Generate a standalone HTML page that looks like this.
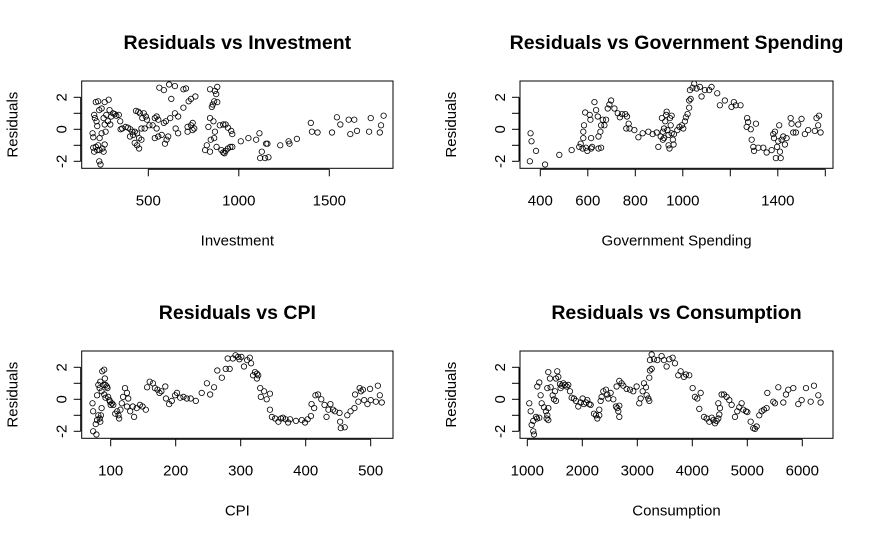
<!DOCTYPE html>
<html><head><meta charset="utf-8"><style>
body{margin:0;background:#fff;}
svg{display:block;font-family:"Liberation Sans",Arial,sans-serif;}
</style></head><body>
<svg id="chart" width="875" height="540" viewBox="0 0 875 540" xmlns="http://www.w3.org/2000/svg"></svg>
<script>
const investmentPoints=[[192,-0.25],[196,-0.5],[196,-1.15],[201,-1.4],[210,1.7],[223,1.75],[201,0.9],[205,0.7],[214,0.5],[218,0.2],[229,1.2],[242,1.3],[231,-0.55],[223,-1],[210,-1.1],[218,-1.3],[231,-1.3],[246,-1.2],[253,-1.4],[259,-0.95],[229,-2],[236,-2.2],[242,-0.25],[253,0.7],[259,0.3],[264,-0.15],[259,1.7],[281,1.85],[286,1.2],[268,0.9],[277,0.5],[290,0.3],[295,0.8],[305,1],[314,0.95],[323,0.85],[337,0.9],[345,0.5],[347,0],[356,0.05],[375,0.15],[388,0.1],[401,0],[412,-0.15],[399,-0.45],[416,-0.35],[425,-0.15],[432,1.15],[445,1.1],[454,1],[438,-0.25],[449,-0.55],[425,-0.85],[438,-1],[449,-1.2],[462,-0.65],[467,0.7],[475,1],[486,0.8],[493,0.6],[480,0.05],[462,0.05],[506,0.25],[524,0.25],[536,0.7],[546,0.8],[555,0.6],[546,0.05],[536,-0.55],[555,-0.45],[574,-0.35],[586,0.4],[592,-0.9],[601,-0.65],[610,-0.45],[597,0.5],[561,2.6],[586,2.45],[615,2.8],[647,2.7],[627,1.9],[647,1],[665,0.8],[621,0.7],[651,0.05],[665,-0.25],[694,2.5],[708,2.55],[694,1.35],[723,1.75],[736,1.9],[760,2.05],[717,0.15],[736,0.25],[745,0.4],[754,0.05],[717,-0.15],[745,-0.05],[841,2.5],[868,2.4],[881,2.65],[875,2.2],[856,1.55],[864,1.75],[881,1.7],[851,1.4],[841,0.7],[832,0.15],[860,0.5],[868,-0.15],[864,-0.55],[845,-0.65],[823,-1],[814,-1.3],[841,-1.4],[877,-1.1],[895,0.25],[914,0.3],[927,0.3],[940,0.1],[958,-0.1],[964,-0.3],[904,-1.3],[914,-1.45],[927,-1.35],[940,-1.2],[953,-1.1],[964,-1.1],[921,-1.5],[1011,-0.75],[1053,-0.55],[1096,-0.65],[1114,-0.25],[1127,-1.4],[1118,-1.8],[1151,-0.9],[1158,-0.9],[1164,-1.75],[1145,-1.8],[1229,-1],[1275,-0.75],[1280,-0.9],[1321,-0.6],[1398,0.4],[1404,-0.15],[1435,-0.2],[1515,-0.2],[1542,0.75],[1561,0.3],[1607,0.6],[1638,0.6],[1616,-0.3],[1653,-0.1],[1729,0.7],[1720,-0.15],[1779,-0.2],[1786,0.25],[1800,0.85]];
const governmentPoints=[[356,-2],[359,-0.25],[363,-0.75],[382,-1.35],[420,-2.2],[480,-1.6],[532,-1.3],[564,-1.1],[570,-0.9],[581,-0.55],[581,-0.15],[584,0.25],[589,1.05],[578,-1.2],[592,-1.15],[598,-1.35],[608,0.9],[611,0.6],[614,-0.55],[618,-1.1],[614,-1.2],[628,1.7],[635,1.2],[642,0.8],[645,-0.45],[645,-1.2],[656,-1.15],[653,-0.15],[656,0.25],[663,0.6],[670,0.25],[677,0.6],[684,1.3],[691,1.55],[698,1.8],[712,1.3],[726,1],[735,0.75],[744,0.95],[758,0.95],[765,0.8],[762,0.05],[776,0.05],[772,0.35],[796,-0.05],[813,-0.5],[831,-0.25],[855,-0.15],[873,-0.3],[890,-0.2],[897,-1.1],[907,-0.45],[912,0.7],[916,-0.65],[921,0.05],[926,0.5],[930,0.9],[932,1.1],[935,-0.05],[940,-0.35],[940,-1],[944,-1.2],[946,0.7],[949,0.25],[953,0.85],[953,-0.25],[958,-0.65],[961,-0.95],[963,-0.3],[921,-0.55],[916,-0.15],[977,-0.05],[986,0.15],[996,0.25],[1002,0.05],[1009,0.5],[1013,0.75],[1020,0.95],[1027,1.35],[1027,1.8],[1033,1.9],[1030,2.45],[1041,2.6],[1048,2.85],[1058,2.55],[1072,2.65],[1079,2.05],[1093,2.45],[1111,2.45],[1121,2.65],[1145,2.25],[1156,1.5],[1177,1.8],[1205,1.4],[1215,1.7],[1223,1.5],[1243,1.5],[1271,0.7],[1275,0.45],[1269,0.15],[1286,0],[1308,0.35],[1290,-0.65],[1297,-1.1],[1300,-1.35],[1318,-1.15],[1339,-1.15],[1353,-1.45],[1374,-1.3],[1381,-0.3],[1384,-0.55],[1388,-0.15],[1392,-1.8],[1397,-1.1],[1402,-0.75],[1406,0.25],[1409,-1.4],[1412,-1.8],[1416,-0.65],[1423,-0.45],[1430,-0.95],[1437,-0.55],[1454,0.7],[1458,0.35],[1465,-0.2],[1476,-0.2],[1486,0.3],[1500,0.65],[1514,-0.3],[1528,-0.05],[1556,-0.1],[1563,0.7],[1570,0.25],[1574,0.85],[1580,-0.2]];
const cpiPoints=[[72,-0.25],[73,-0.75],[73,-2],[78,-2.2],[77,-1.55],[79,-1.3],[81,-1],[83,-1.2],[84,-1.4],[85,-1],[86,-0.55],[79,0.25],[81,0.9],[83,0.7],[84,1.1],[86,0.5],[87,1.75],[90,1.85],[91,1.3],[89,0.9],[90,0.3],[92,0.9],[94,0.8],[95,0.7],[92,0.1],[96,0.15],[98,-0.05],[99,-0.15],[100,-0.35],[102,-0.25],[104,-0.35],[107,-0.9],[110,-0.75],[112,-1],[113,-1.2],[115,-0.65],[117,-0.25],[119,0.15],[122,0.7],[125,0.4],[127,0.05],[125,-0.45],[130,-0.75],[134,-0.45],[136,-1.1],[140,-0.55],[145,-0.35],[149,-0.45],[154,-0.65],[156,0.75],[160,1.1],[165,1],[168,0.7],[172,0.6],[175,0.4],[178,0.5],[184,0.8],[185,0.05],[190,-0.3],[194,-0.1],[199,0.25],[202,0.4],[207,0.1],[212,0.15],[217,0.05],[223,0.05],[231,-0.1],[240,0.4],[248,1],[253,0.3],[259,0.75],[264,1.8],[271,1.35],[277,1.9],[283,1.9],[280,2.55],[288,2.55],[292,2.75],[296,2.65],[298,2.5],[301,2.65],[305,2.05],[310,2.45],[314,2.6],[316,2.25],[319,1.5],[322,1.7],[325,1.6],[327,1.5],[325,1.3],[330,0.7],[331,0.15],[336,0.5],[340,0],[345,0.35],[345,-0.65],[348,-1.1],[353,-1.2],[358,-1.4],[362,-1.2],[365,-1.15],[369,-1.25],[373,-1.45],[376,-1.25],[385,-1.35],[394,-1.3],[399,-1.45],[403,-1.25],[408,-1.05],[409,-0.3],[413,-0.55],[415,0.25],[419,0.3],[424,0],[429,-0.35],[432,-1.1],[435,-0.65],[438,-0.3],[442,-0.65],[445,-0.75],[452,-0.85],[453,-1.4],[454,-1.8],[460,-1.75],[464,-1],[469,-0.75],[475,-0.55],[476,0.3],[481,-0.15],[483,0.7],[485,0.5],[488,0.6],[490,-0.05],[495,-0.3],[499,0.65],[500,-0.05],[508,-0.15],[511,0.85],[514,0.25],[517,-0.2]];
const consumptionPoints=[[1036,-0.25],[1061,-0.75],[1079,-1.6],[1109,-2],[1121,-2.2],[1109,-1.35],[1158,-1.1],[1176,-1.2],[1218,-1.15],[1182,0.8],[1218,1.05],[1242,0.25],[1261,-0.25],[1303,-0.5],[1339,-0.75],[1364,-1],[1382,-1.3],[1352,-1.2],[1382,-0.55],[1382,1.7],[1412,1.3],[1364,0.7],[1424,0.75],[1461,0.25],[1485,0],[1521,-0.1],[1503,0.5],[1521,1.3],[1545,1.75],[1564,1.4],[1594,0.95],[1606,0.7],[1624,0.85],[1655,1],[1685,0.9],[1715,0.8],[1745,0.9],[1776,0.5],[1806,0.1],[1848,0.05],[1885,-0.1],[1927,-0.45],[1970,-0.2],[2006,0.05],[2030,-0.3],[2067,-0.2],[2091,-0.05],[2127,-0.3],[2152,-0.35],[2212,-0.9],[2248,-1],[2273,-1.2],[2309,-1],[2309,-0.65],[2333,-0.1],[2351,0.15],[2382,0.5],[2430,0.6],[2454,0.3],[2473,0.05],[2515,0.4],[2564,0],[2612,-0.45],[2636,-0.55],[2673,-0.4],[2673,-1.1],[2655,-0.75],[2624,0.8],[2673,1.15],[2715,1],[2745,0.85],[2806,0.65],[2867,0.6],[2927,0.5],[2988,0.8],[3036,-0.25],[3061,0.05],[3097,0.5],[3121,1],[3158,0.75],[3170,0.25],[3200,0.05],[3218,-0.1],[3218,1.35],[3230,1.8],[3261,1.9],[3230,2.45],[3261,2.8],[3303,2.5],[3364,2.45],[3442,2.7],[3485,2.45],[3533,2.05],[3582,2.5],[3642,2.6],[3685,2.25],[3745,1.5],[3788,1.75],[3848,1.4],[3885,1.55],[3945,1.5],[4006,0.7],[4048,0.15],[4091,0.05],[4127,-0.6],[4152,0.4],[4212,-1.1],[4261,-1.2],[4309,-1.4],[4352,-1.15],[4382,-1.3],[4412,-1.5],[4442,-1.35],[4473,-1.2],[4491,-0.95],[4473,-0.25],[4503,-0.55],[4533,0.3],[4576,0.3],[4624,0.15],[4673,-0.05],[4715,-0.35],[4776,-1.1],[4818,-0.75],[4855,-0.5],[4897,-0.25],[4927,-0.65],[4976,-0.75],[5000,-0.8],[5061,-1.4],[5109,-1.8],[5139,-1.85],[5170,-1.7],[5218,-1],[5261,-0.75],[5303,-0.65],[5351,-0.55],[5364,0.4],[5473,-0.15],[5503,-0.25],[5564,0.75],[5655,-0.2],[5703,0.3],[5745,0.6],[5836,0.7],[5927,-0.3],[5988,-0.05],[6067,0.7],[6152,-0.15],[6212,0.85],[6291,0.25],[6333,-0.2]];
const investmentTicks=[500,1000,1500];
const governmentTicks=[400,600,800,1000,1200,1400,1600];
const governmentTickLabels=["400","600","800","1000","","1400",""];
const cpiTicks=[100,200,300,400,500];
const consumptionTicks=[1000,2000,3000,4000,5000,6000];
const yTicks=[-2,-1,0,1,2];
const yTickLabels=["-2","","0","","2"];
const titles=["Residuals vs Investment","Residuals vs Government Spending","Residuals vs CPI","Residuals vs Consumption"];
const xTitles=["Investment","Government Spending","CPI","Consumption"];

const NS="http://www.w3.org/2000/svg";
const svg=document.getElementById('chart');
function mk(tag,attrs,parent,text){const e=document.createElementNS(NS,tag);for(const k in attrs)e.setAttribute(k,attrs[k]);if(text!==undefined)e.textContent=text;(parent||svg).appendChild(e);return e;}

const panels=[
 {key:'investment',pts:investmentPoints,ticks:investmentTicks,labels:investmentTicks.map(String),x0:81.7,x1:393,top:81,bot:168.3,ref:500,refPx:148.3,scale:0.181,zeroY:129.3},
 {key:'government',pts:governmentPoints,ticks:governmentTicks,labels:governmentTickLabels,x0:520,x1:833,top:81,bot:168.3,ref:400,refPx:540.3,scale:0.2375,zeroY:129.3},
 {key:'cpi',pts:cpiPoints,ticks:cpiTicks,labels:cpiTicks.map(String),x0:81.7,x1:393,top:351,bot:438.3,ref:100,refPx:110.7,scale:0.65,zeroY:399.3},
 {key:'consumption',pts:consumptionPoints,ticks:consumptionTicks,labels:consumptionTicks.map(String),x0:520,x1:833,top:351,bot:438.3,ref:1000,refPx:527.3,scale:0.055,zeroY:399.3}
];
panels.forEach((p,i)=>{
 const xs=v=>p.refPx+(v-p.ref)*p.scale;
 const ys=v=>p.zeroY-v*16;
 const g=mk('g',{});
 
 
 const cx=(p.x0+p.x1)/2, cy=(p.top+p.bot)/2;
 const t=mk('text',{x:cx,y:p.top-32,'text-anchor':'middle','font-size':'19.5','font-weight':'bold'},g,titles[i]);
 
 
 const box=mk('rect',{x:p.x0,y:p.top,width:p.x1-p.x0,height:p.bot-p.top,fill:'none',stroke:'#000','stroke-width':1},g);
 
 
 const xa=mk('g',{},g);
 
 
 mk('line',{x1:xs(p.ticks[0]),x2:xs(p.ticks[p.ticks.length-1]),y1:p.bot+1,y2:p.bot+1,stroke:'#000'},xa);
 p.ticks.forEach((v,j)=>{
  mk('line',{x1:xs(v),x2:xs(v),y1:p.bot+1,y2:p.bot+8,stroke:'#000'},xa);
  if(p.labels[j]){const l=mk('text',{x:xs(v),y:p.bot+37,'text-anchor':'middle','font-size':'15'},xa,p.labels[j]);
   
   }
 });
 const xt=mk('text',{x:cx,y:p.bot+77,'text-anchor':'middle','font-size':'15'},g,xTitles[i]);
 
 
 const ya=mk('g',{},g);
 
 
 mk('line',{x1:p.x0-1,x2:p.x0-1,y1:ys(-2),y2:ys(2),stroke:'#000'},ya);
 yTicks.forEach((v,j)=>{
  mk('line',{x1:p.x0-1,x2:p.x0-8,y1:ys(v),y2:ys(v),stroke:'#000'},ya);
  if(yTickLabels[j]){const lx=p.x0-15;const l=mk('text',{x:lx,y:ys(v),'text-anchor':'middle','font-size':'15',transform:`rotate(-90 ${lx} ${ys(v)})`},ya,yTickLabels[j]);
   
   }
 });
 const yx=p.x0-64;
 const yt=mk('text',{x:yx,y:cy,'text-anchor':'middle','font-size':'15',transform:`rotate(-90 ${yx} ${cy})`},g,'Residuals');
 
 
 const pg=mk('g',{},g);
 
 
 p.pts.forEach(d=>{
  const c=mk('circle',{cx:xs(d[0]),cy:ys(d[1]),r:2.7,fill:'none',stroke:'#000','stroke-width':0.8},pg);
  
  
 });
});
</script>
</body></html>
